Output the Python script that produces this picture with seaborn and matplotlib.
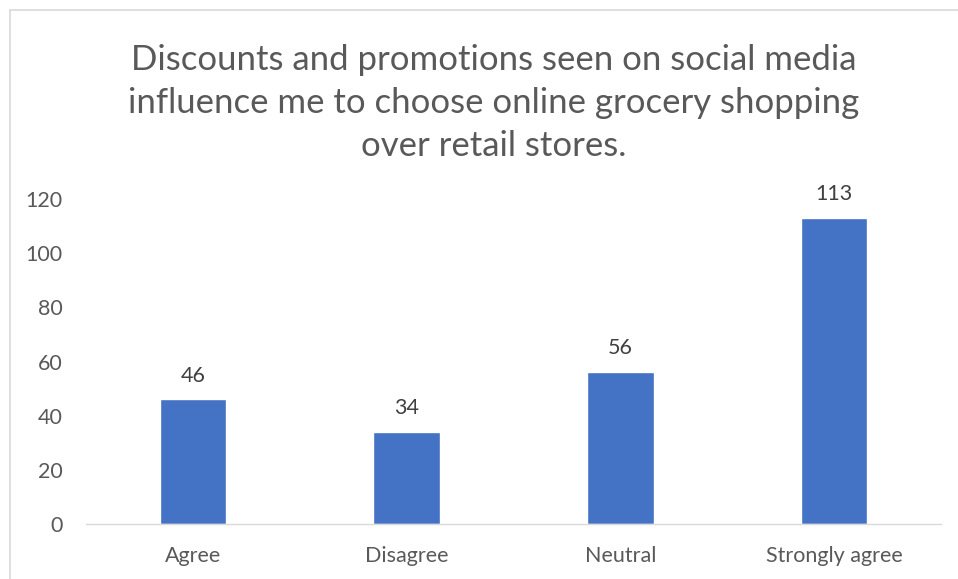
import seaborn as sns
import matplotlib.pyplot as plt
import pandas as pd
from matplotlib.patches import Rectangle

# --- data ---
responses = ['Agree', 'Disagree', 'Neutral', 'Strongly agree']
counts = [46, 34, 56, 113]
yticks = [0, 20, 40, 60, 80, 100, 120]

df = pd.DataFrame({'Response': responses, 'Count': counts})

sns.set_style("white")
plt.rcParams['font.family'] = ['Lato', 'DejaVu Sans']

W, H = 958, 579
fig = plt.figure(figsize=(W / 100, H / 100), dpi=100)
ax = fig.add_axes([86 / W, 1 - 524 / H, (941 - 86) / W, (524 - 199) / H])

sns.barplot(data=df, x='Response', y='Count', color='#4472C4',
            width=0.31, saturation=1, ax=ax)

for c in ax.containers:
    ax.bar_label(c, padding=10, fontsize=15.5, color='#404040')

ax.set_ylim(0, 120)
ax.set_xlim(-0.5, len(responses) - 0.5)
ax.set_yticks(yticks)
ax.set_xlabel('')
ax.set_ylabel('')
ax.tick_params(axis='both', length=0, labelsize=15.5, labelcolor='#595959')
ax.tick_params(axis='y', pad=17)
ax.tick_params(axis='x', pad=16)
for s in ['top', 'right', 'left']:
    ax.spines[s].set_visible(False)
ax.spines['bottom'].set_color('#D9D9D9')
ax.spines['bottom'].set_linewidth(1)

fig.text(494 / W, 1 - 103 / H,
         'Discounts and promotions seen on social media\n'
         'influence me to choose online grocery shopping\n'
         'over retail stores.',
         ha='center', va='center', fontsize=25, color='#595959',
         linespacing=1.44)

# chart frame (cut off at right and bottom as in the source)
fig.patches.append(Rectangle((10 / W, -0.1), 1.1, 1 - 10 / H + 0.1,
                             transform=fig.transFigure, fill=False,
                             edgecolor='#D9D9D9', linewidth=1.2))

plt.savefig('out.png', dpi=100)
